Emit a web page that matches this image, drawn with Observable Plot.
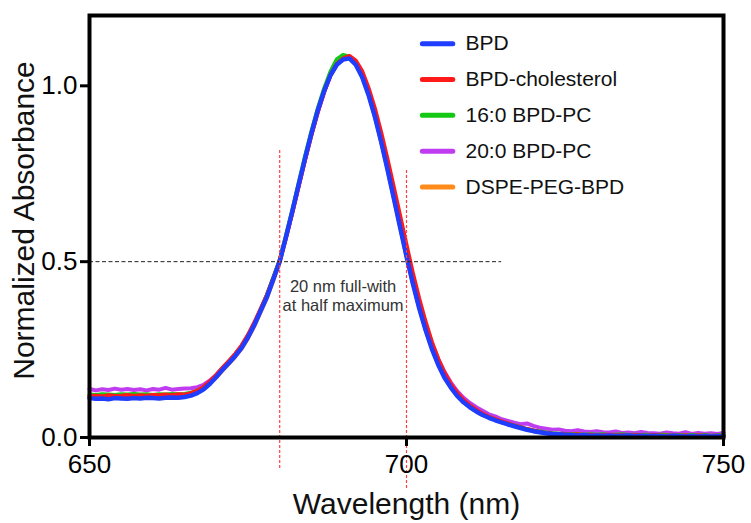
<!DOCTYPE html>
<html><head><meta charset="utf-8">
<script src="https://cdn.jsdelivr.net/npm/d3@7"></script>
<script src="https://cdn.jsdelivr.net/npm/@observablehq/plot@0.6"></script>
<style>body{margin:0;background:#fff}</style>
</head><body><div id="chart"></div>
<script>
const wavelengths = [650,651,652,653,654,655,656,657,658,659,660,661,662,663,664,665,666,667,668,669,670,671,672,673,674,675,676,677,678,679,680,681,682,683,684,685,686,687,688,689,690,691,692,693,694,695,696,697,698,699,700,701,702,703,704,705,706,707,708,709,710,711,712,713,714,715,716,717,718,719,720,721,722,723,724,725,726,727,728,729,730,731,732,733,734,735,736,737,738,739,740,741,742,743,744,745,746,747,748,749,750];

const seriesNames = ["BPD", "BPD-cholesterol", "16:0 BPD-PC", "20:0 BPD-PC", "DSPE-PEG-BPD"];
const seriesColors = ["#1f3dff", "#ff1a1a", "#14c814", "#c03cf0", "#ff8c1a"];

const bpd = [0.112,0.110,0.111,0.109,0.112,0.111,0.110,0.112,0.111,0.113,0.112,0.111,0.113,0.114,0.113,0.115,
0.119,0.126,0.137,0.153,0.172,0.193,0.212,0.232,0.255,0.285,0.320,0.360,0.400,0.450,
0.501,0.571,0.644,0.720,0.794,0.865,0.930,0.985,1.030,1.060,1.075,1.078,
1.060,1.025,0.975,0.913,0.841,0.762,0.680,0.597,0.515,0.438,0.368,0.306,0.252,0.207,
0.170,0.142,0.118,0.100,0.086,0.074,0.064,0.056,0.049,0.043,0.037,0.032,0.027,0.022,0.018,0.015,0.012,0.010,0.009,0.008,
0.007,0.006,0.007,0.005,0.006,0.005,0.006,0.004,0.005,0.006,0.004,0.005,0.004,0.005,0.004,0.003,0.005,0.004,0.003,0.004,0.003,0.004,0.003,0.004,0.003];

const bpdCholesterol = [0.118,0.119,0.117,0.120,0.118,0.119,0.121,0.118,0.120,0.119,0.121,0.120,0.122,0.120,0.123,0.122,
0.126,0.133,0.144,0.160,0.178,0.199,0.218,0.238,0.262,0.292,0.327,0.366,0.405,0.453,
0.502,0.570,0.640,0.715,0.790,0.860,0.925,0.982,1.030,1.062,1.078,1.085,
1.072,1.042,0.995,0.937,0.868,0.792,0.712,0.630,0.548,0.468,0.395,0.330,0.272,0.224,
0.184,0.152,0.127,0.107,0.091,0.079,0.068,0.059,0.052,0.046,0.040,0.034,0.029,0.024,0.020,0.016,0.013,0.011,0.010,0.009,
0.008,0.009,0.007,0.008,0.006,0.007,0.008,0.006,0.007,0.005,0.007,0.006,0.005,0.007,0.006,0.005,0.006,0.005,0.006,0.004,0.006,0.005,0.004,0.005,0.004];

const pc16 = [0.122,0.121,0.123,0.122,0.121,0.123,0.122,0.124,0.122,0.123,0.121,0.123,0.122,0.124,0.123,0.124,
0.127,0.133,0.143,0.157,0.175,0.196,0.216,0.236,0.259,0.288,0.323,0.364,0.406,0.455,
0.505,0.575,0.648,0.724,0.800,0.870,0.935,0.992,1.040,1.075,1.088,1.083,
1.063,1.028,0.978,0.917,0.845,0.767,0.685,0.601,0.519,0.442,0.372,0.310,0.256,0.211,
0.174,0.145,0.121,0.103,0.089,0.077,0.067,0.058,0.051,0.045,0.039,0.034,0.029,0.024,0.020,0.017,0.014,0.012,0.011,0.010,
0.009,0.010,0.008,0.009,0.008,0.009,0.007,0.008,0.009,0.007,0.008,0.007,0.008,0.006,0.008,0.007,0.006,0.007,0.006,0.007,0.006,0.007,0.005,0.006,0.007];

const pc20 = [0.138,0.134,0.137,0.135,0.139,0.136,0.138,0.135,0.137,0.134,0.138,0.136,0.141,0.136,0.138,0.139,
0.140,0.143,0.150,0.162,0.178,0.197,0.216,0.236,0.260,0.289,0.324,0.364,0.406,0.453,
0.502,0.570,0.642,0.716,0.790,0.860,0.925,0.982,1.030,1.063,1.078,1.080,
1.065,1.032,0.984,0.925,0.855,0.779,0.699,0.617,0.536,0.458,0.387,0.324,0.269,0.223,
0.186,0.156,0.132,0.113,0.098,0.086,0.076,0.066,0.060,0.052,0.047,0.042,0.038,0.040,0.033,0.028,0.025,0.022,0.023,0.019,
0.018,0.021,0.017,0.016,0.018,0.015,0.014,0.017,0.013,0.014,0.012,0.016,0.013,0.012,0.011,0.014,0.012,0.011,0.015,0.010,0.013,0.011,0.012,0.010,0.013];

const dspePeg = [0.116,0.115,0.117,0.116,0.115,0.117,0.116,0.115,0.117,0.116,0.118,0.116,0.117,0.118,0.117,0.119,
0.122,0.128,0.138,0.153,0.171,0.191,0.210,0.230,0.253,0.282,0.317,0.357,0.398,0.447,
0.498,0.568,0.641,0.717,0.792,0.863,0.928,0.984,1.030,1.061,1.076,1.079,
1.061,1.026,0.976,0.914,0.842,0.763,0.681,0.598,0.516,0.439,0.369,0.307,0.253,0.208,
0.171,0.143,0.119,0.101,0.087,0.075,0.065,0.057,0.050,0.044,0.038,0.033,0.028,0.023,0.019,0.016,0.013,0.011,0.010,0.009,
0.008,0.007,0.008,0.006,0.007,0.006,0.007,0.005,0.006,0.007,0.005,0.006,0.005,0.006,0.005,0.004,0.006,0.005,0.004,0.005,0.004,0.005,0.004,0.005,0.004];

const xTicks = [650, 700, 750];
const yTicks = [0, 0.5, 1.0];
const halfMaximum = 0.5;
const halfMaxLineEnd = 715;
const fwhmBounds = [680, 700];
const fwhmLineTops = [0.822, 0.762];
const fwhmLineBottoms = [-0.088, -0.145];
const annotationText = "20 nm full-with\nat half maximum";
const annotationPos = {x: 690, y: 0.405};

const valuesBySeries = [bpd, bpdCholesterol, pc16, pc20, dspePeg];
const rows = [];
seriesNames.forEach((name, i) => wavelengths.forEach((w, j) => rows.push({series: name, wavelength: w, absorbance: valuesBySeries[i][j]})));

const drawOrder = [4, 3, 2, 1, 0];
const lineMarks = drawOrder.map(i => Plot.line(rows.filter(r => r.series === seriesNames[i]), {
  x: "wavelength", y: "absorbance", stroke: seriesColors[i], strokeWidth: i === 0 ? 4.5 : 4, strokeLinejoin: "round"
}));

// legend (drawn inside the plot, top right)
const legendRows = seriesNames.map((name, i) => ({name, color: seriesColors[i], y: 1.12 - 0.102 * i}));
const legendMarks = legendRows.flatMap(d => [
  Plot.link([d], {x1: () => 702.5, x2: () => 707.3, y1: "y", y2: "y", stroke: d.color, strokeWidth: 5, strokeLinecap: "round"}),
  Plot.text([d], {x: () => 709.3, y: "y", text: "name", textAnchor: "start", fontSize: 21, fill: "#111"})
]);

const chart = Plot.plot({
  width: 751, height: 523,
  marginLeft: 89, marginRight: 28, marginTop: 15, marginBottom: 86,
  style: {fontFamily: "Liberation Sans, Arial, sans-serif", background: "white"},
  x: {domain: [650, 750]},
  y: {domain: [0, 1.2]},
  marks: [
    ...lineMarks,
    Plot.ruleY([halfMaximum], {x1: 650, x2: halfMaxLineEnd, stroke: "#222", strokeWidth: 1, strokeDasharray: "4,2.5"}),
    Plot.ruleX(fwhmBounds, {x: d => d, y1: (d, i) => fwhmLineBottoms[i], y2: (d, i) => fwhmLineTops[i], stroke: "#ff4040", strokeWidth: 1.2, strokeDasharray: "3,2"}),
    Plot.text([annotationText], {x: () => annotationPos.x, y: () => annotationPos.y, text: d => d, fontSize: 16.5, lineHeight: 1.2, fill: "#333"}),
    ...legendMarks,
    Plot.frame({stroke: "black", strokeWidth: 4}),
    Plot.axisX({ticks: xTicks, tickSize: 9, tickPadding: 8, strokeWidth: 3, fontSize: 26, label: null, tickFormat: d => String(d)}),
    Plot.axisY({ticks: yTicks, tickSize: 9, tickPadding: 3, strokeWidth: 3, fontSize: 26, label: null, tickFormat: d3.format(".1f")}),
    Plot.text(["Wavelength (nm)"], {frameAnchor: "bottom", textAnchor: "middle", lineAnchor: "middle", dy: 67, fontSize: 30, fill: "#111"}),
    Plot.text(["Normalized Absorbance"], {frameAnchor: "left", textAnchor: "middle", lineAnchor: "middle", rotate: -90, dx: -65, dy: -6, fontSize: 30, fill: "#111"})
  ]
});
document.getElementById("chart").appendChild(chart);
</script>
</body></html>
